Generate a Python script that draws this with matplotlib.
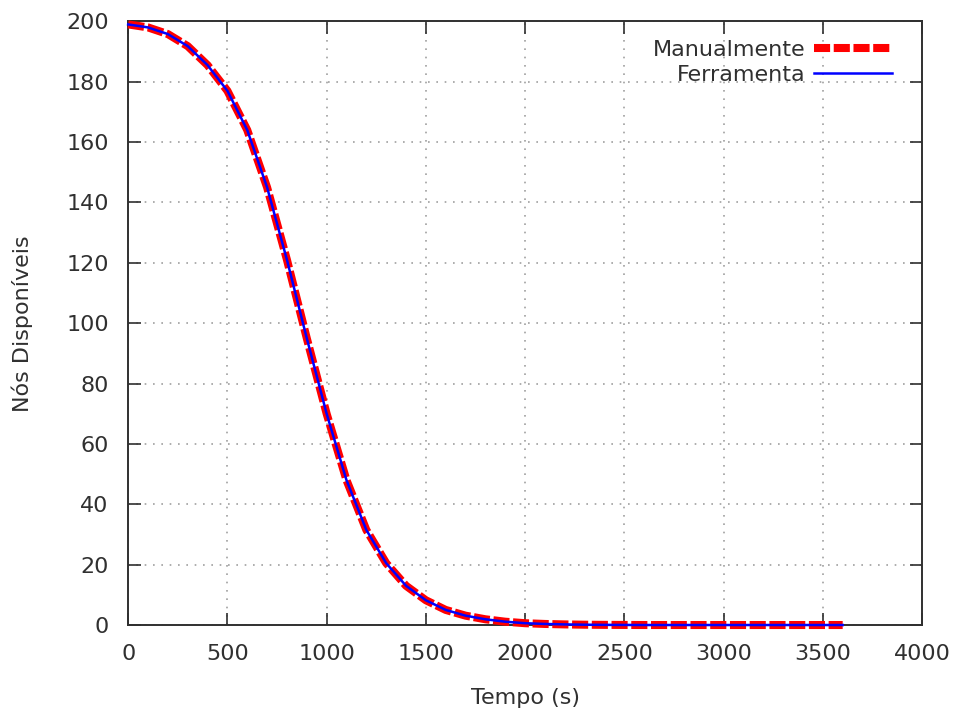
import matplotlib
matplotlib.use("Agg")
import matplotlib.pyplot as plt
import numpy as np

# tempo (s) e nós disponíveis
tempo = [0, 100, 200, 300, 400, 500, 600, 700, 800, 900, 1000,
         1100, 1200, 1300, 1400, 1500, 1600, 1700, 1800, 1900, 2000,
         2100, 2200, 2300, 2400, 2600, 2800, 3000, 3200, 3400, 3600]
manual = [199, 198, 195.8, 191.8, 185.5, 177, 164, 145, 121, 95, 70,
          48, 31.5, 20.5, 13, 8.2, 5, 3.1, 1.9, 1.1, 0.6,
          0.35, 0.2, 0.1, 0.05, 0, 0, 0, 0, 0, 0]
ferramenta = [199, 198, 195.8, 191.8, 185.5, 177, 164, 145, 121, 95, 70,
              48, 31.5, 20.5, 13, 8.2, 5, 3.1, 1.9, 1.1, 0.6,
              0.35, 0.2, 0.1, 0.05, 0, 0, 0, 0, 0, 0]

xticks = [0, 500, 1000, 1500, 2000, 2500, 3000, 3500, 4000]
yticks = [0, 20, 40, 60, 80, 100, 120, 140, 160, 180, 200]

plt.rcParams['font.family'] = ['DejaVu Sans']
plt.rcParams['font.size'] = 16

fig = plt.figure(figsize=(9.6, 7.13), dpi=100)
ax = fig.add_axes([0.1335, 0.1234, 0.827, 0.8466])

ax.plot(tempo, manual, color='#ff0000', linewidth=5.8, linestyle=(0, (2.0, 0.45)),
        dash_capstyle='butt', label='Manualmente', clip_on=False, zorder=3)
ax.plot(tempo, ferramenta, color='#0000ff', linewidth=1.8,
        label='Ferramenta', clip_on=False, zorder=4)

ax.set_xlim(0, 4000)
ax.set_ylim(0, 200)
ax.set_xticks(xticks)
ax.set_yticks(yticks)

ax.grid(True, color='#a0a0a0', linestyle=(0, (1, 4)), linewidth=1.2)
ax.tick_params(direction='in', length=9, width=1.2, top=True, right=True,
               colors='#303030', labelsize=16)
ax.tick_params(axis='y', pad=14)
ax.tick_params(axis='x', pad=14)
for s in ax.spines.values():
    s.set_linewidth(1.4)
    s.set_color('#303030')

ax.set_xlabel('Tempo (s)', fontsize=16, labelpad=17, color='#303030')
ax.set_ylabel('Nós Disponíveis', fontsize=16, labelpad=24, color='#303030')

ax.legend(loc='upper right', bbox_to_anchor=(0.987, 1.003), frameon=False,
          markerfirst=False, handlelength=3.5, handletextpad=0.4,
          labelspacing=0.25, borderaxespad=0.5, fontsize=16, labelcolor='#303030')

fig.savefig('out.png', dpi=100)
